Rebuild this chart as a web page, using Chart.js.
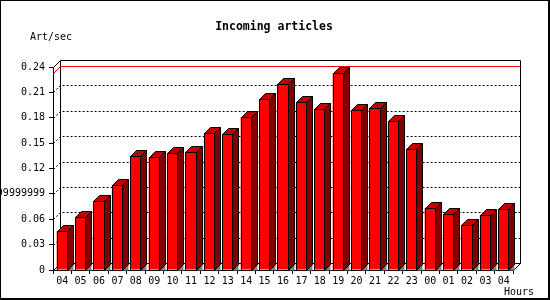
<!DOCTYPE html>
<html>
<head>
<meta charset="utf-8">
<script src="https://cdn.jsdelivr.net/npm/chart.js@4/dist/chart.umd.min.js"></script>
<style>
html,body{margin:0;padding:0;background:#fff;}
canvas{display:block;}
</style>
</head>
<body>
<canvas id="c" width="550" height="300"></canvas>
<script>
const hours = ['04','05','06','07','08','09','10','11','12','13','14','15','16','17','18','19','20','21','22','23','00','01','02','03','04'];
const artPerSec = [0.0461,0.0627,0.0816,0.1005,0.1348,0.1336,0.1380,0.1392,0.1616,0.1604,0.1805,0.2022,0.2196,0.1983,0.1900,0.2326,0.1888,0.1915,0.1758,0.1434,0.0729,0.0659,0.0528,0.0647,0.0718];
const yTickValues = [0,0.03,0.06,0.09,0.12,0.15,0.18,0.21,0.24];
const yTickLabels = ['0','0.03','0.06','0.09999999999999999','0.12','0.15','0.18','0.21','0.24'];
const titleText = 'Incoming articles';
const yTitle = 'Art/sec';
const xTitle = 'Hours';

const MONO = '"DejaVu Sans Mono", "Liberation Mono", monospace';
const WALL = 7;   // depth of back wall
const DEPTH = 6;  // depth of bars

const backPlugin = {
  id: 'back',
  beforeDatasetsDraw(chart) {
    const ctx = chart.ctx, a = chart.chartArea, y = chart.scales.y;
    ctx.save();
    // back panel frame
    ctx.strokeStyle = '#000';
    ctx.lineWidth = 1;
    ctx.beginPath();
    ctx.moveTo(a.left + 0.5, a.top + 0.5);
    ctx.lineTo(a.left + WALL + 0.5, a.top - WALL + 0.5);
    ctx.lineTo(a.right + WALL + 0.5, a.top - WALL + 0.5);
    ctx.lineTo(a.right + WALL + 0.5, a.bottom - WALL + 0.5);
    ctx.lineTo(a.right + 0.5, a.bottom + 0.5);
    ctx.moveTo(a.left + WALL + 0.5, a.top - WALL + 0.5);
    ctx.lineTo(a.left + WALL + 0.5, a.bottom - WALL + 0.5);
    ctx.lineTo(a.right + WALL + 0.5, a.bottom - WALL + 0.5);
    ctx.moveTo(a.left + 0.5, a.bottom + 0.5);
    ctx.lineTo(a.left + WALL + 0.5, a.bottom - WALL + 0.5);
    ctx.stroke();
    // dotted gridlines
    ctx.setLineDash([2, 2]);
    yTickValues.forEach(v => {
      if (v <= 0 || v >= y.max) return;
      const py = Math.round(y.getPixelForValue(v)) + 0.5;
      ctx.beginPath();
      ctx.moveTo(a.left + 0.5, py);
      ctx.lineTo(a.left + WALL + 0.5, py - WALL);
      ctx.lineTo(a.right + WALL, py - WALL);
      ctx.stroke();
    });
    ctx.setLineDash([]);
    // max line
    const mx = Math.max(...artPerSec);
    const pm = Math.round(y.getPixelForValue(mx)) + 0.5;
    ctx.strokeStyle = '#ff0000';
    ctx.beginPath();
    ctx.moveTo(a.left + 0.5, pm);
    ctx.lineTo(a.left + WALL + 0.5, pm - WALL);
    ctx.lineTo(a.right + WALL, pm - WALL);
    ctx.stroke();
    ctx.restore();
  },
  afterDatasetsDraw(chart) {
    const ctx = chart.ctx;
    const meta = chart.getDatasetMeta(0);
    ctx.save();
    ctx.lineWidth = 1;
    ctx.strokeStyle = '#000';
    meta.data.forEach(bar => {
      const p = bar.getProps(['x', 'y', 'width', 'base'], true);
      const l = Math.round(p.x - p.width / 2) + 0.5;
      const r = Math.round(p.x + p.width / 2) - 0.5;
      const t = Math.round(p.y) + 0.5;
      const b = Math.round(p.base) + 0.5;
      // floor shadow
      ctx.fillStyle = '#808080';
      ctx.beginPath();
      ctx.moveTo(r, b); ctx.lineTo(r + DEPTH, b - DEPTH); ctx.lineTo(r + DEPTH, b); ctx.closePath();
      ctx.fill();
      // side face
      ctx.fillStyle = '#800000';
      ctx.beginPath();
      ctx.moveTo(r, t); ctx.lineTo(r + DEPTH, t - DEPTH); ctx.lineTo(r + DEPTH, b - DEPTH); ctx.lineTo(r, b); ctx.closePath();
      ctx.fill(); ctx.stroke();
      // top face
      ctx.fillStyle = '#c00000';
      ctx.beginPath();
      ctx.moveTo(l, t); ctx.lineTo(l + DEPTH, t - DEPTH); ctx.lineTo(r + DEPTH, t - DEPTH); ctx.lineTo(r, t); ctx.closePath();
      ctx.fill(); ctx.stroke();
      // front outline
      ctx.strokeRect(l, t, r - l, b - t);
    });
    ctx.restore();
  },
  afterDraw(chart) {
    const ctx = chart.ctx;
    ctx.save();
    ctx.fillStyle = '#000';
    // outer border
    ctx.fillRect(0, 0, 550, 1);
    ctx.fillRect(0, 0, 1, 300);
    ctx.fillRect(548, 0, 2, 300);
    ctx.fillRect(0, 298, 550, 2);
    ctx.textBaseline = 'middle';
    ctx.font = 'bold 11.5px ' + MONO;
    ctx.textAlign = 'center';
    ctx.fillText(titleText, 274, 27);
    ctx.font = '10px ' + MONO;
    ctx.textAlign = 'left';
    ctx.fillText(yTitle, 30, 37);
    ctx.fillText(xTitle, 504, 292);
    ctx.restore();
  }
};

Chart.defaults.font.family = MONO;
Chart.defaults.font.size = 10;
Chart.defaults.color = '#000';

new Chart(document.getElementById('c'), {
  type: 'bar',
  data: {
    labels: hours,
    datasets: [{
      data: artPerSec,
      backgroundColor: '#ff0000',
      borderColor: '#000',
      borderWidth: 0,
      barPercentage: 0.6,
      categoryPercentage: 1.0
    }]
  },
  options: {
    responsive: false,
    animation: false,
    devicePixelRatio: 1,
    layout: { padding: { top: 67, right: 37, left: 0, bottom: 0 } },
    plugins: { legend: { display: false }, tooltip: { enabled: false }, title: { display: false } },
    scales: {
      x: {
        offset: true,
        grid: { display: true, offset: true, drawOnChartArea: false, drawTicks: true, tickLength: 4, color: '#000' },
        border: { display: true, color: '#000', width: 1 },
        ticks: { maxRotation: 0, autoSkip: false, padding: 1, font: { size: 10 } },
        afterFit(s) { s.height = 30; }
      },
      y: {
        min: 0,
        max: 0.24,
        afterBuildTicks(s) { s.ticks = yTickValues.map(v => ({ value: v })); },
        grid: { display: true, drawOnChartArea: false, drawTicks: true, tickLength: 4, color: '#000' },
        border: { display: true, color: '#000', width: 1 },
        ticks: { padding: 4, autoSkip: false, callback: (v, i) => yTickLabels[i], font: { size: 10 } },
        afterFit(s) { s.width = 53; }
      }
    }
  },
  plugins: [backPlugin]
});
</script>
</body>
</html>
